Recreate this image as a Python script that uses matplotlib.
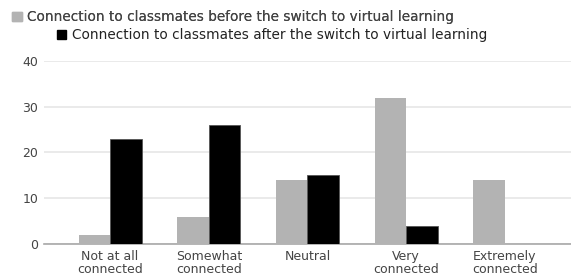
import matplotlib
matplotlib.use("Agg")
import matplotlib.pyplot as plt
import numpy as np
from matplotlib.patches import Patch

categories = ["Not at all\nconnected", "Somewhat\nconnected", "Neutral",
              "Very\nconnected", "Extremely\nconnected"]
before = [2, 6, 14, 32, 14]
after = [23, 26, 15, 4, 0]
label_before = "Connection to classmates before the switch to virtual learning"
label_after = "Connection to classmates after the switch to virtual learning"

fig = plt.figure(figsize=(5.71, 2.78), dpi=100)
ax = fig.add_axes([0.077, 0.122, 0.923, 0.659])

x = np.arange(len(categories))
w = 0.32
ax.bar(x - w / 2, before, width=w, color="#b3b3b3", zorder=3)
ax.bar(x + w / 2, after, width=w, color="black", edgecolor="#555555",
       linewidth=0.6, zorder=3)

ax.set_xlim(-0.67, 4.67)
ax.set_ylim(0, 40)
ax.set_yticks([0, 10, 20, 30, 40])
ax.set_xticks(x)
ax.set_xticklabels(categories, linespacing=1.0)
ax.tick_params(axis="both", length=0, labelsize=9, colors="#444444", pad=4)
ax.grid(axis="y", color="#e6e6e6", linewidth=1.2, zorder=0)
for s in ["top", "right", "left"]:
    ax.spines[s].set_visible(False)
ax.spines["bottom"].set_color("#a8a8a8")
ax.spines["bottom"].set_linewidth(1.2)

leg1 = fig.legend(handles=[Patch(color="#b3b3b3", label=label_before)],
                  loc="center left", bbox_to_anchor=(0.0, 0.938),
                  frameon=False, fontsize=9.8, handlelength=0.7,
                  handleheight=0.7, handletextpad=0.4, labelcolor="#444444")
leg2 = fig.legend(handles=[Patch(color="black", label=label_after)],
                  loc="center left", bbox_to_anchor=(0.078, 0.873),
                  frameon=False, fontsize=9.8, handlelength=0.7,
                  handleheight=0.7, handletextpad=0.4, labelcolor="#222222")
fig.add_artist(leg1)

fig.savefig("out.png", dpi=100)
